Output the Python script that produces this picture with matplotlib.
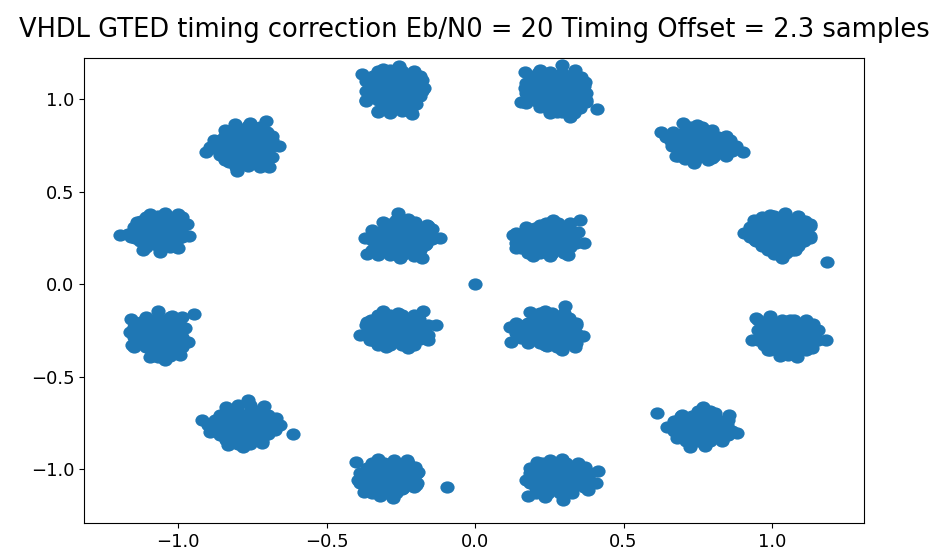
import numpy as np
import matplotlib
matplotlib.use("Agg")
import matplotlib.pyplot as plt
from matplotlib.path import Path
from matplotlib.transforms import Affine2D

# Received symbols after timing correction, grouped by constellation cluster
# (in-phase, quadrature); *_fill holds the densely packed symbols in each core
ul_outer_i = [-0.704, -0.906, -0.801, -0.694, -0.808, -0.758, -0.879, -0.842, -0.660, -0.825,
              -0.774, -0.741, -0.791, -0.724, -0.859, -0.758, -0.707, -0.842, -0.684, -0.892,
              -0.823, -0.787, -0.746, -0.702, -0.866, -0.827, -0.783, -0.741, -0.706,
              -0.862, -0.822, -0.788, -0.747, -0.700, -0.828, -0.781, -0.742, -0.708]
ul_outer_q = [0.884, 0.716, 0.614, 0.635, 0.868, 0.873, 0.781, 0.835, 0.749, 0.754,
              0.781, 0.727, 0.700, 0.808, 0.700, 0.662, 0.700, 0.673, 0.781, 0.740,
              0.826, 0.821, 0.828, 0.822, 0.772, 0.768, 0.773, 0.767, 0.771,
              0.718, 0.714, 0.719, 0.713, 0.717, 0.660, 0.664, 0.659, 0.665]
ul_outer_fill = [(-0.805, 0.851), (-0.765, 0.853), (-0.724, 0.850),
                 (-0.845, 0.797), (-0.805, 0.795), (-0.765, 0.798), (-0.724, 0.796), (-0.684, 0.799),
                 (-0.885, 0.743), (-0.845, 0.745), (-0.805, 0.742), (-0.765, 0.744), (-0.724, 0.741),
                 (-0.684, 0.745),
                 (-0.845, 0.689), (-0.805, 0.691), (-0.765, 0.688), (-0.724, 0.690), (-0.684, 0.687),
                 (-0.805, 0.635), (-0.765, 0.637), (-0.724, 0.634)]

top_left_i = [-0.380, -0.256, -0.310, -0.185, -0.172, -0.367, -0.327, -0.286, -0.212, -0.199,
              -0.354, -0.303, -0.253, -0.219, -0.269, -0.320, -0.236, -0.279,
              -0.345, -0.308, -0.264, -0.228, -0.349, -0.304, -0.268, -0.224, -0.187,
              -0.346, -0.307, -0.265, -0.227, -0.184, -0.305, -0.267, -0.225]
top_left_q = [1.138, 1.181, 1.165, 1.127, 1.062, 0.997, 0.932, 0.927, 0.922, 0.976,
              1.062, 1.078, 1.105, 1.041, 1.008, 0.997, 0.970, 1.051,
              1.125, 1.129, 1.126, 1.130, 1.075, 1.071, 1.074, 1.070, 1.076,
              1.017, 1.021, 1.018, 1.022, 1.016, 0.967, 0.963, 0.966]
top_left_fill = [(-0.327, 1.154), (-0.286, 1.156), (-0.246, 1.153), (-0.205, 1.155),
                 (-0.367, 1.100), (-0.327, 1.102), (-0.286, 1.099), (-0.246, 1.101), (-0.205, 1.098),
                 (-0.180, 1.102),
                 (-0.367, 1.046), (-0.327, 1.044), (-0.286, 1.047), (-0.246, 1.045), (-0.205, 1.048),
                 (-0.180, 1.044),
                 (-0.367, 0.992), (-0.327, 0.994), (-0.286, 0.991), (-0.246, 0.993), (-0.205, 0.990),
                 (-0.327, 0.938), (-0.286, 0.940), (-0.246, 0.937), (-0.215, 0.939)]

top_right_i = [0.168, 0.219, 0.293, 0.337, 0.367, 0.374, 0.411, 0.320, 0.276, 0.219,
               0.155, 0.168, 0.219, 0.269, 0.320, 0.253, 0.303, 0.337, 0.202,
               0.194, 0.230, 0.275, 0.311, 0.356, 0.190, 0.234, 0.271, 0.315, 0.352,
               0.193, 0.231, 0.274, 0.312, 0.355, 0.234, 0.272, 0.314, 0.353]
top_right_q = [1.149, 1.159, 1.186, 1.159, 1.073, 0.997, 0.949, 0.905, 0.932, 0.959,
               0.986, 1.062, 1.078, 1.105, 1.078, 1.024, 0.997, 1.024, 1.019,
               1.118, 1.114, 1.117, 1.113, 1.119, 1.060, 1.064, 1.061, 1.063, 1.059,
               1.010, 1.006, 1.009, 1.005, 1.011, 0.956, 0.952, 0.955, 0.951]
top_right_fill = [(0.212, 1.143), (0.253, 1.145), (0.293, 1.142), (0.333, 1.144),
                  (0.172, 1.089), (0.212, 1.091), (0.253, 1.088), (0.293, 1.090), (0.333, 1.087),
                  (0.370, 1.091),
                  (0.172, 1.035), (0.212, 1.033), (0.253, 1.036), (0.293, 1.034), (0.333, 1.037),
                  (0.374, 1.033),
                  (0.172, 0.981), (0.212, 0.983), (0.253, 0.980), (0.293, 0.982), (0.333, 0.979),
                  (0.374, 0.983),
                  (0.253, 0.927), (0.293, 0.929), (0.333, 0.926)]

ur_outer_i = [0.626, 0.700, 0.747, 0.798, 0.859, 0.902, 0.842, 0.798, 0.737, 0.677,
              0.663, 0.690, 0.741, 0.791, 0.758, 0.717, 0.818, 0.774,
              0.665, 0.706, 0.742, 0.787, 0.661, 0.703, 0.746, 0.783, 0.827,
              0.702, 0.745, 0.787, 0.823, 0.866, 0.706, 0.742, 0.786]
ur_outer_q = [0.824, 0.873, 0.862, 0.835, 0.781, 0.716, 0.727, 0.684, 0.657, 0.695,
              0.749, 0.786, 0.781, 0.765, 0.716, 0.727, 0.797, 0.824,
              0.822, 0.826, 0.821, 0.825, 0.772, 0.768, 0.771, 0.767, 0.773,
              0.718, 0.714, 0.717, 0.713, 0.719, 0.675, 0.671, 0.674]
ur_outer_fill = [(0.724, 0.851), (0.765, 0.849),
                 (0.643, 0.797), (0.684, 0.799), (0.724, 0.796), (0.765, 0.798), (0.805, 0.795),
                 (0.845, 0.799),
                 (0.684, 0.743), (0.724, 0.745), (0.765, 0.742), (0.805, 0.744), (0.845, 0.741),
                 (0.880, 0.745),
                 (0.684, 0.695), (0.724, 0.697), (0.765, 0.694), (0.805, 0.696), (0.845, 0.693)]

left_up_i = [-1.195, -1.138, -1.094, -1.044, -1.000, -0.970, -0.963, -1.000, -1.061, -1.118,
             -1.145, -1.094, -1.044, -1.010, -1.061, -1.101, -1.027,
             -1.126, -1.090, -1.045, -1.009, -1.130, -1.086, -1.049, -1.005, -1.168,
             -1.127, -1.089, -1.046, -1.008]
left_up_q = [0.268, 0.338, 0.381, 0.386, 0.381, 0.327, 0.262, 0.197, 0.176, 0.186,
             0.251, 0.295, 0.322, 0.284, 0.241, 0.230, 0.214,
             0.340, 0.336, 0.339, 0.335, 0.286, 0.282, 0.285, 0.281, 0.270,
             0.232, 0.228, 0.231, 0.227]
left_up_fill = [(-1.108, 0.365), (-1.067, 0.367), (-1.027, 0.364), (-0.987, 0.366),
                (-1.148, 0.311), (-1.108, 0.313), (-1.067, 0.310), (-1.027, 0.312), (-0.987, 0.309),
                (-1.160, 0.257), (-1.108, 0.259), (-1.067, 0.256), (-1.027, 0.258), (-0.987, 0.255),
                (-1.108, 0.203), (-1.067, 0.205), (-1.027, 0.202)]

left_dn_i = [-1.158, -1.111, -1.067, -1.020, -0.946, -0.976, -0.966, -0.993, -1.044, -1.094,
             -1.155, -1.162, -1.111, -1.061, -1.020, -1.077, -1.034,
             -1.126, -1.090, -1.045, -1.009, -1.130, -1.086, -1.049, -1.005,
             -1.127, -1.089, -1.046, -1.008, -1.087, -1.048, -1.006]
left_dn_q = [-0.186, -0.192, -0.143, -0.170, -0.159, -0.235, -0.311, -0.381, -0.408, -0.392,
             -0.327, -0.257, -0.273, -0.246, -0.289, -0.327, -0.354,
             -0.201, -0.205, -0.202, -0.206, -0.255, -0.259, -0.256, -0.260,
             -0.309, -0.313, -0.310, -0.314, -0.363, -0.367, -0.364]
left_dn_fill = [(-1.108, -0.176), (-1.067, -0.174), (-1.027, -0.177), (-0.987, -0.175),
                (-1.148, -0.230), (-1.108, -0.228), (-1.067, -0.231), (-1.027, -0.229), (-0.987, -0.232),
                (-1.148, -0.284), (-1.108, -0.286), (-1.067, -0.283), (-1.027, -0.285), (-0.987, -0.282),
                (-1.148, -0.338), (-1.108, -0.336), (-1.067, -0.339), (-1.027, -0.337), (-0.987, -0.340),
                (-1.067, -0.390), (-1.027, -0.388)]

in_ul_i = [-0.259, -0.310, -0.370, -0.364, -0.303, -0.253, -0.178, -0.168, -0.118, -0.145,
           -0.158, -0.202, -0.253, -0.286, -0.236, -0.202, -0.269, -0.219,
           -0.288, -0.244, -0.207, -0.163, -0.329, -0.284, -0.248, -0.203, -0.167,
           -0.325, -0.287, -0.245, -0.206, -0.164, -0.328, -0.285, -0.247, -0.204]
in_ul_q = [0.386, 0.338, 0.251, 0.165, 0.197, 0.143, 0.143, 0.214, 0.251, 0.251,
           0.316, 0.338, 0.305, 0.268, 0.241, 0.268, 0.214, 0.186,
           0.324, 0.320, 0.323, 0.319, 0.270, 0.266, 0.269, 0.265, 0.271,
           0.216, 0.212, 0.215, 0.211, 0.217, 0.161, 0.157, 0.160, 0.156]
in_ul_fill = [(-0.266, 0.349), (-0.226, 0.351),
              (-0.347, 0.295), (-0.306, 0.297), (-0.266, 0.294), (-0.226, 0.296), (-0.185, 0.293),
              (-0.145, 0.297),
              (-0.347, 0.241), (-0.306, 0.243), (-0.266, 0.240), (-0.226, 0.242), (-0.185, 0.239),
              (-0.145, 0.243),
              (-0.347, 0.186), (-0.306, 0.188), (-0.266, 0.185), (-0.226, 0.187), (-0.185, 0.184)]

in_ll_i = [-0.310, -0.259, -0.175, -0.131, -0.158, -0.226, -0.300, -0.354, -0.387, -0.364,
           -0.303, -0.253, -0.202, -0.219, -0.286, -0.185,
           -0.349, -0.304, -0.268, -0.224, -0.187, -0.345, -0.308, -0.264, -0.228, -0.183,
           -0.348, -0.305, -0.267, -0.225, -0.186]
in_ll_q = [-0.143, -0.154, -0.143, -0.219, -0.300, -0.343, -0.338, -0.300, -0.273, -0.203,
           -0.219, -0.235, -0.203, -0.273, -0.289, -0.246,
           -0.190, -0.194, -0.191, -0.195, -0.189, -0.244, -0.248, -0.245, -0.249, -0.243,
           -0.298, -0.302, -0.299, -0.303, -0.297]
in_ll_fill = [(-0.327, -0.165), (-0.286, -0.163), (-0.246, -0.166), (-0.205, -0.164),
              (-0.367, -0.219), (-0.327, -0.217), (-0.286, -0.220), (-0.246, -0.218), (-0.205, -0.221),
              (-0.160, -0.217),
              (-0.367, -0.273), (-0.327, -0.275), (-0.286, -0.272), (-0.246, -0.274), (-0.205, -0.271),
              (-0.160, -0.275),
              (-0.327, -0.327), (-0.286, -0.325), (-0.246, -0.328), (-0.205, -0.326)]

in_ur_i = [0.354, 0.263, 0.219, 0.172, 0.128, 0.138, 0.195, 0.253, 0.313, 0.367,
           0.347, 0.303, 0.185, 0.246, 0.286, 0.236, 0.303,
           0.201, 0.237, 0.281, 0.318, 0.160, 0.197, 0.241, 0.277, 0.322,
           0.156, 0.200, 0.238, 0.280, 0.319]
in_ur_q = [0.349, 0.349, 0.322, 0.311, 0.268, 0.197, 0.154, 0.154, 0.159, 0.224,
           0.284, 0.311, 0.241, 0.268, 0.230, 0.197, 0.214,
           0.307, 0.303, 0.306, 0.302, 0.253, 0.249, 0.252, 0.248, 0.254,
           0.199, 0.195, 0.198, 0.194, 0.200]
in_ur_fill = [(0.239, 0.332), (0.279, 0.334), (0.320, 0.331),
              (0.138, 0.278), (0.178, 0.280), (0.219, 0.277), (0.259, 0.279), (0.299, 0.276),
              (0.340, 0.280),
              (0.138, 0.224), (0.178, 0.226), (0.219, 0.223), (0.259, 0.225), (0.299, 0.222),
              (0.340, 0.226),
              (0.178, 0.170), (0.219, 0.172), (0.259, 0.169), (0.299, 0.171)]

in_lr_i = [0.303, 0.185, 0.236, 0.118, 0.121, 0.185, 0.236, 0.293, 0.337, 0.364,
           0.340, 0.286, 0.168, 0.236, 0.286, 0.219,
           0.201, 0.237, 0.281, 0.318, 0.160, 0.197, 0.241, 0.277, 0.322,
           0.156, 0.200, 0.238, 0.280, 0.319, 0.241, 0.277]
in_lr_q = [-0.116, -0.149, -0.143, -0.230, -0.311, -0.300, -0.327, -0.354, -0.338, -0.278,
           -0.219, -0.181, -0.219, -0.219, -0.262, -0.273,
           -0.179, -0.183, -0.180, -0.184, -0.233, -0.237, -0.234, -0.238, -0.232,
           -0.287, -0.291, -0.288, -0.292, -0.286, -0.335, -0.339]
in_lr_fill = [(0.219, -0.154), (0.259, -0.152), (0.299, -0.155),
              (0.138, -0.208), (0.178, -0.206), (0.219, -0.209), (0.259, -0.207), (0.299, -0.210),
              (0.340, -0.206),
              (0.138, -0.262), (0.178, -0.264), (0.219, -0.261), (0.259, -0.263), (0.299, -0.260),
              (0.340, -0.264),
              (0.178, -0.316), (0.219, -0.314), (0.259, -0.317), (0.299, -0.315), (0.340, -0.318)]

right_up_i = [0.906, 0.939, 0.993, 1.044, 1.088, 1.128, 1.128, 1.077, 1.034, 0.987,
              0.943, 1.185, 0.993, 1.044, 1.088, 1.027,
              0.948, 0.985, 1.029, 1.065, 1.110, 0.944, 0.989, 1.025, 1.069, 1.106,
              0.947, 0.986, 1.028, 1.066, 1.109, 0.988, 1.026, 1.068]
right_up_q = [0.278, 0.349, 0.376, 0.386, 0.370, 0.327, 0.251, 0.186, 0.143, 0.197,
              0.241, 0.122, 0.295, 0.305, 0.268, 0.230,
              0.340, 0.336, 0.339, 0.335, 0.341, 0.286, 0.282, 0.285, 0.281, 0.287,
              0.232, 0.228, 0.231, 0.227, 0.233, 0.188, 0.184, 0.187]
right_up_fill = [(0.967, 0.365), (1.007, 0.367), (1.047, 0.364), (1.088, 0.366),
                 (0.926, 0.311), (0.967, 0.313), (1.007, 0.310), (1.047, 0.312), (1.088, 0.309),
                 (1.128, 0.313),
                 (0.926, 0.257), (0.967, 0.259), (1.007, 0.256), (1.047, 0.258), (1.088, 0.255),
                 (1.128, 0.259),
                 (0.967, 0.208), (1.007, 0.210), (1.047, 0.207), (1.088, 0.209),
                 (1.007, 0.165), (1.047, 0.167)]

right_dn_i = [0.946, 0.993, 1.061, 1.111, 1.145, 1.182, 1.135, 1.084, 1.027, 0.987,
              0.933, 0.976, 1.027, 1.077, 1.044, 1.128,
              0.975, 1.011, 1.056, 1.092, 1.137, 0.971, 1.015, 1.052, 1.096, 1.133,
              0.974, 1.012, 1.055, 1.093, 1.136]
right_dn_q = [-0.181, -0.170, -0.192, -0.224, -0.257, -0.300, -0.343, -0.392, -0.386, -0.354,
              -0.300, -0.235, -0.262, -0.278, -0.316, -0.273,
              -0.217, -0.221, -0.218, -0.222, -0.216, -0.271, -0.275, -0.272, -0.276, -0.270,
              -0.325, -0.329, -0.326, -0.330, -0.324]
right_dn_fill = [(0.953, -0.192), (0.993, -0.190), (1.034, -0.193), (1.074, -0.191), (1.114, -0.194),
                 (0.953, -0.246), (0.993, -0.248), (1.034, -0.245), (1.074, -0.247), (1.114, -0.244),
                 (1.155, -0.248),
                 (0.953, -0.300), (0.993, -0.302), (1.034, -0.299), (1.074, -0.301), (1.114, -0.298),
                 (1.155, -0.302),
                 (0.993, -0.354), (1.034, -0.352), (1.074, -0.355), (1.114, -0.353),
                 (1.054, -0.380)]

ll_outer_i = [-0.919, -0.838, -0.764, -0.710, -0.670, -0.613, -0.673, -0.717, -0.781, -0.832,
              -0.892, -0.825, -0.764, -0.717, -0.771, -0.838, -0.741,
              -0.836, -0.800, -0.756, -0.719, -0.877, -0.840, -0.796, -0.760, -0.715, -0.679,
              -0.881, -0.837, -0.801, -0.757, -0.720, -0.675, -0.839, -0.797, -0.759, -0.716]
ll_outer_q = [-0.732, -0.662, -0.624, -0.657, -0.722, -0.808, -0.776, -0.857, -0.878, -0.868,
              -0.797, -0.732, -0.705, -0.743, -0.786, -0.797, -0.824,
              -0.676, -0.680, -0.677, -0.681, -0.730, -0.734, -0.731, -0.735, -0.729, -0.733,
              -0.784, -0.788, -0.785, -0.789, -0.783, -0.787, -0.839, -0.843, -0.840, -0.844]
ll_outer_fill = [(-0.798, -0.651), (-0.758, -0.649),
                 (-0.859, -0.705), (-0.818, -0.707), (-0.778, -0.704), (-0.738, -0.706), (-0.697, -0.703),
                 (-0.899, -0.759), (-0.859, -0.757), (-0.818, -0.760), (-0.778, -0.758), (-0.738, -0.761),
                 (-0.697, -0.757), (-0.657, -0.760),
                 (-0.859, -0.813), (-0.818, -0.815), (-0.778, -0.812), (-0.738, -0.814), (-0.697, -0.811),
                 (-0.798, -0.865), (-0.758, -0.863)]

bot_left_i = [-0.401, -0.327, -0.273, -0.229, -0.192, -0.199, -0.094, -0.276, -0.320, -0.374,
              -0.394, -0.337, -0.279, -0.236, -0.242, -0.303,
              -0.365, -0.329, -0.284, -0.248, -0.203, -0.369, -0.325, -0.288, -0.244, -0.207,
              -0.366, -0.328, -0.285, -0.247, -0.204]
bot_left_q = [-0.959, -0.943, -0.949, -0.949, -1.014, -1.084, -1.095, -1.154, -1.143, -1.122,
              -1.057, -1.014, -1.046, -1.003, -1.100, -1.100,
              -0.990, -0.994, -0.991, -0.995, -0.989, -1.044, -1.048, -1.045, -1.049, -1.043,
              -1.098, -1.102, -1.099, -1.103, -1.097]
bot_left_fill = [(-0.347, -0.965), (-0.306, -0.963), (-0.266, -0.966), (-0.226, -0.964),
                 (-0.387, -1.019), (-0.347, -1.017), (-0.306, -1.020), (-0.266, -1.018), (-0.226, -1.021),
                 (-0.195, -1.017),
                 (-0.387, -1.073), (-0.347, -1.075), (-0.306, -1.072), (-0.266, -1.074), (-0.226, -1.071),
                 (-0.195, -1.075),
                 (-0.347, -1.127), (-0.306, -1.125), (-0.266, -1.128)]

bot_right_i = [0.209, 0.253, 0.293, 0.340, 0.414, 0.407, 0.380, 0.296, 0.236, 0.178,
               0.172, 0.185, 0.236, 0.286, 0.337, 0.253, 0.303,
               0.207, 0.244, 0.288, 0.325, 0.369, 0.203, 0.248, 0.284, 0.329, 0.365,
               0.206, 0.245, 0.287, 0.326, 0.368]
bot_right_q = [-0.959, -0.949, -0.943, -0.992, -1.008, -1.073, -1.111, -1.165, -1.149, -1.143,
               -1.057, -0.992, -1.030, -1.057, -1.084, -1.100, -1.003,
               -0.990, -0.994, -0.991, -0.995, -0.989, -1.044, -1.048, -1.045, -1.049, -1.043,
               -1.098, -1.102, -1.099, -1.103, -1.097]
bot_right_fill = [(0.226, -0.965), (0.266, -0.963), (0.306, -0.966), (0.346, -0.964),
                  (0.185, -1.019), (0.226, -1.017), (0.266, -1.020), (0.306, -1.018), (0.346, -1.021),
                  (0.387, -1.017),
                  (0.185, -1.073), (0.226, -1.075), (0.266, -1.072), (0.306, -1.074), (0.346, -1.071),
                  (0.387, -1.075),
                  (0.205, -1.127), (0.246, -1.125), (0.286, -1.128), (0.326, -1.126)]

lr_outer_i = [0.613, 0.646, 0.697, 0.768, 0.808, 0.852, 0.882, 0.832, 0.774, 0.724,
              0.680, 0.717, 0.768, 0.808, 0.741, 0.791,
              0.692, 0.729, 0.773, 0.809, 0.854, 0.688, 0.733, 0.769, 0.813, 0.850,
              0.691, 0.730, 0.772, 0.810, 0.853]
lr_outer_q = [-0.695, -0.770, -0.705, -0.662, -0.695, -0.732, -0.803, -0.841, -0.873, -0.878,
              -0.830, -0.757, -0.741, -0.776, -0.803, -0.819,
              -0.709, -0.713, -0.710, -0.714, -0.708, -0.763, -0.767, -0.764, -0.768, -0.762,
              -0.817, -0.821, -0.818, -0.822, -0.816]
lr_outer_fill = [(0.751, -0.684), (0.791, -0.682),
                 (0.670, -0.738), (0.710, -0.736), (0.751, -0.739), (0.791, -0.737), (0.831, -0.740),
                 (0.670, -0.792), (0.710, -0.794), (0.751, -0.791), (0.791, -0.793), (0.831, -0.790),
                 (0.865, -0.794),
                 (0.710, -0.846), (0.751, -0.844), (0.791, -0.847), (0.831, -0.845)]

origin_i = [0.0]
origin_q = [0.0]

tick_values = [-1.0, -0.5, 0.0, 0.5, 1.0]
title_text = "VHDL GTED timing correction Eb/N0 = 20 Timing Offset = 2.3 samples"

clusters_i = [ul_outer_i, top_left_i, top_right_i, ur_outer_i, left_up_i, left_dn_i,
              in_ul_i, in_ll_i, in_ur_i, in_lr_i, right_up_i, right_dn_i,
              ll_outer_i, bot_left_i, bot_right_i, lr_outer_i, origin_i]
clusters_q = [ul_outer_q, top_left_q, top_right_q, ur_outer_q, left_up_q, left_dn_q,
              in_ul_q, in_ll_q, in_ur_q, in_lr_q, right_up_q, right_dn_q,
              ll_outer_q, bot_left_q, bot_right_q, lr_outer_q, origin_q]
fills = [ul_outer_fill, top_left_fill, top_right_fill, ur_outer_fill, left_up_fill,
         left_dn_fill, in_ul_fill, in_ll_fill, in_ur_fill, in_lr_fill, right_up_fill,
         right_dn_fill, ll_outer_fill, bot_left_fill, bot_right_fill, lr_outer_fill]

fill_pts = np.array([p for f in fills for p in f], dtype=float)
sym_i = np.concatenate([np.asarray(c, dtype=float) for c in clusters_i] + [fill_pts[:, 0]])
sym_q = np.concatenate([np.asarray(c, dtype=float) for c in clusters_q] + [fill_pts[:, 1]])

# slightly wide elliptical dot
dot = Path.unit_circle().transformed(Affine2D().scale(1.0, 0.86))

fig = plt.figure(figsize=(9.4, 5.56), dpi=100)
ax = fig.add_axes([0.0894, 0.0594, 0.8298, 0.8366])
ax.scatter(sym_i, sym_q, s=105, marker=dot, color="#1f77b4", linewidths=0)

ax.set_xlim(-1.3165, 1.3098)
ax.set_ylim(-1.289, 1.224)
ax.set_xticks(tick_values)
ax.set_yticks(tick_values)
ax.tick_params(labelsize=13)
ax.set_title(title_text, fontsize=18.5, pad=15)

fig.savefig("out.png", dpi=100)
